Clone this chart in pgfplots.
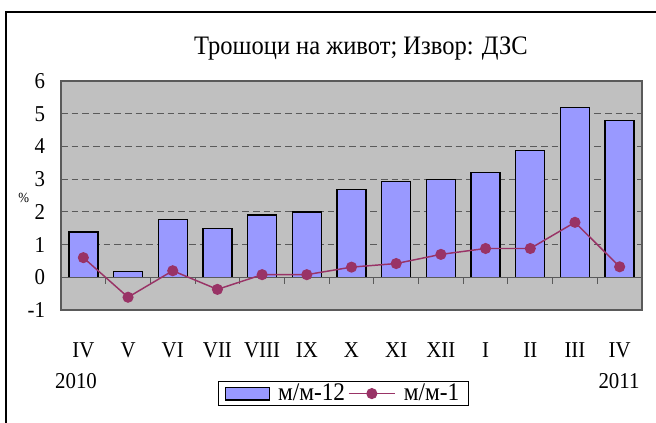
\documentclass[border=0pt]{standalone}
\usepackage{fontspec}
\setmainfont{Liberation Serif}[FakeStretch=0.92]
\usepackage{pgfplots}
\pgfplotsset{compat=1.18}
\definecolor{barfill}{RGB}{153,153,255}
\definecolor{linecol}{RGB}{153,51,102}
\definecolor{plotbg}{RGB}{192,192,192}
\definecolor{gridcol}{RGB}{90,90,90}
\pgfplotsset{
  barleg/.style={legend image code/.code={\draw[##1] (0pt,-4.8pt) rectangle (33pt,4.8pt);}},
  lineleg/.style={legend image code/.code={\draw[##1, mark repeat=2, mark phase=2] plot coordinates {(0pt,0pt) (17.5pt,0pt) (35pt,0pt)};}},
}
\begin{document}
\begin{tikzpicture}
\useasboundingbox (0,0) rectangle (492pt,317.25pt);
\fill[white] (0,0) rectangle (492pt,317.25pt);
\draw[line width=1.5pt] (4.5pt,-2pt) -- (4.5pt,308.25pt) -- (494pt,308.25pt);
\begin{axis}[at={(45.75pt,84.75pt)}, anchor=south west, scale only axis,
  width=435.75pt, height=171.75pt,
  xmin=-0.5, xmax=12.5, ymin=-1, ymax=6,
  xtick={0,...,12}, xticklabels={IV,V,VI,VII,VIII,IX,X,XI,XII,I,II,III,IV},
  ytick={-1,0,...,6},
  major tick length=0pt,
  axis background/.style={fill=plotbg},
  axis line style={gridcol, line width=0.8pt},
  ymajorgrids, major grid style={gridcol, dash pattern=on 5pt off 3pt, line width=0.7pt},
  tick label style={font=\fontsize{17}{20}\selectfont},
  /pgf/number format/assume math mode=true,
  yticklabel style={xshift=-8.5pt},
  xticklabel style={yshift=-21pt},
  legend columns=2,
  legend style={at={(0.486,-0.365)}, anchor=center, draw=black, line width=0.8pt,
    font=\fontsize{19}{22}\selectfont, inner xsep=5pt, inner ysep=0pt,
    /tikz/every odd column/.append style={column sep=4pt}},
  clip=false,
]
\addplot[ybar, bar width=21.75pt, fill=barfill, draw=black, line width=1pt, barleg]
  coordinates {(0,1.38) (1,0.17) (2,1.77) (3,1.49) (4,1.90) (5,2.0) (6,2.68) (7,2.93) (8,2.99) (9,3.2) (10,3.88) (11,5.2) (12,4.79)};
\addlegendentry{м/м-12}
\draw[gridcol, line width=0.8pt] (axis cs:-0.5,0) -- (axis cs:12.5,0);
\draw[gridcol, line width=0.8pt] (axis cs:0.5,0) -- (axis cs:0.5,-0.22);
\draw[gridcol, line width=0.8pt] (axis cs:1.5,0) -- (axis cs:1.5,-0.22);
\draw[gridcol, line width=0.8pt] (axis cs:2.5,0) -- (axis cs:2.5,-0.22);
\draw[gridcol, line width=0.8pt] (axis cs:3.5,0) -- (axis cs:3.5,-0.22);
\draw[gridcol, line width=0.8pt] (axis cs:4.5,0) -- (axis cs:4.5,-0.22);
\draw[gridcol, line width=0.8pt] (axis cs:5.5,0) -- (axis cs:5.5,-0.22);
\draw[gridcol, line width=0.8pt] (axis cs:6.5,0) -- (axis cs:6.5,-0.22);
\draw[gridcol, line width=0.8pt] (axis cs:7.5,0) -- (axis cs:7.5,-0.22);
\draw[gridcol, line width=0.8pt] (axis cs:8.5,0) -- (axis cs:8.5,-0.22);
\draw[gridcol, line width=0.8pt] (axis cs:9.5,0) -- (axis cs:9.5,-0.22);
\draw[gridcol, line width=0.8pt] (axis cs:10.5,0) -- (axis cs:10.5,-0.22);
\draw[gridcol, line width=0.8pt] (axis cs:11.5,0) -- (axis cs:11.5,-0.22);
\addplot[linecol, line width=1.1pt, mark=*, mark size=3.6pt, mark options={fill=linecol, draw=linecol}, lineleg]
  coordinates {(0,0.6) (1,-0.61) (2,0.2) (3,-0.37) (4,0.08) (5,0.08) (6,0.31) (7,0.42) (8,0.7) (9,0.88) (10,0.88) (11,1.68) (12,0.32)};
\addlegendentry{м/м-1}
\end{axis}
\node[font=\fontsize{20}{24}\selectfont, anchor=base] at (270.75pt,276pt) {Трошоци на живот; Извор: ДЗС};
\node[font=\fontsize{17}{20}\selectfont, anchor=base] at (57pt,25.5pt) {2010};
\node[font=\fontsize{17}{20}\selectfont, anchor=base] at (464.25pt,25.5pt) {2011};
\node[font=\fontsize{10.5}{12}\selectfont] at (17.85pt,168.75pt) {\%};
\end{tikzpicture}
\end{document}
